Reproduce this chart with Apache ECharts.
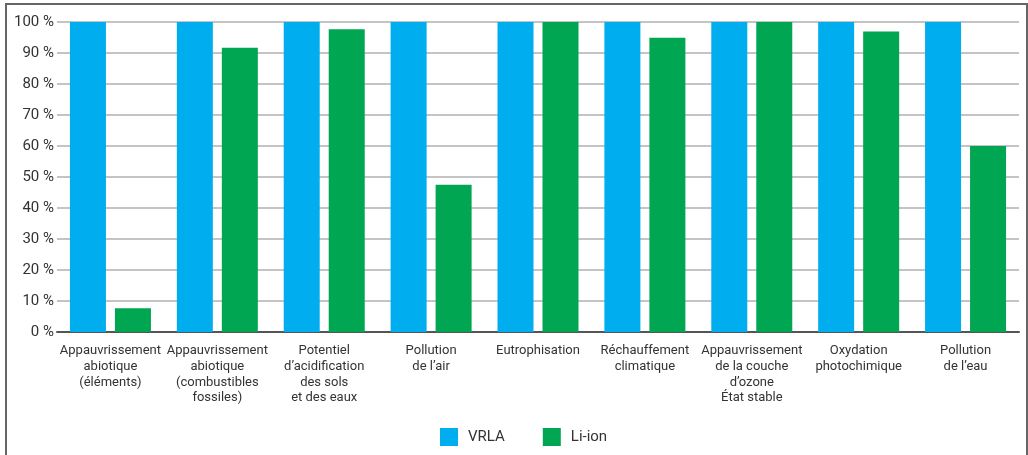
<!DOCTYPE html>
<html>
<head>
<meta charset="utf-8">
<script src="https://cdn.jsdelivr.net/npm/echarts@6/dist/echarts.min.js"></script>
<style>
html,body{margin:0;padding:0;background:#fff;}
#chart{position:absolute;left:0;top:0;width:1028px;height:455px;}
#frame{position:absolute;left:5px;top:3px;width:1019px;height:460px;border:2px solid #666;border-bottom:none;pointer-events:none;}
</style>
</head>
<body>
<div id="chart"></div>
<div id="frame"></div>
<script>
var categories = [
  "Appauvrissement\nabiotique\n(éléments)",
  "Appauvrissement\nabiotique\n(combustibles\nfossiles)",
  "Potentiel\nd’acidification\ndes sols\net des eaux",
  "Pollution\nde l’air",
  "Eutrophisation",
  "Réchauffement\nclimatique",
  "Appauvrissement\nde la couche\nd’ozone\nÉtat stable",
  "Oxydation\nphotochimique",
  "Pollution\nde l’eau"
];
var seriesNames = ["VRLA", "Li-ion"];
var vrla = [100, 100, 100, 100, 100, 100, 100, 100, 100];
var liion = [7.7, 91.7, 97.7, 47.5, 100, 94.9, 100, 96.9, 60];

var chart = echarts.init(document.getElementById('chart'));
var font = 'Roboto, "DejaVu Sans", sans-serif';
chart.setOption({
  animation: false,
  textStyle: {fontFamily: font},
  grid: {left: 57, right: 9, top: 22, bottom: 123, containLabel: false},
  legend: {
    data: seriesNames,
    left: 435, top: 423,
    itemWidth: 18, itemHeight: 18, itemGap: 38,
    icon: 'rect',
    textStyle: {fontSize: 15, color: '#333', fontFamily: font, padding: [0,0,0,5]}
  },
  xAxis: {
    type: 'category',
    data: categories,
    axisTick: {show: false},
    axisLine: {lineStyle: {color: '#555', width: 2}},
    axisLabel: {interval: 0, color: '#333', fontSize: 13, lineHeight: 15.7, margin: 11, fontFamily: font}
  },
  yAxis: {
    type: 'value',
    min: 0, max: 100, interval: 10,
    axisLine: {show: false},
    axisTick: {show: false},
    splitLine: {lineStyle: {color: '#c4c4c4', width: 2}},
    axisLabel: {formatter: '{value} %', color: '#333', fontSize: 15, margin: 3, fontFamily: font}
  },
  series: [
    {name: seriesNames[0], type: 'bar', data: vrla, barWidth: 36, barGap: '25%', itemStyle: {color: '#00AEEF'}},
    {name: seriesNames[1], type: 'bar', data: liion, barWidth: 36, itemStyle: {color: '#00A651'}}
  ]
});
</script>
</body>
</html>
